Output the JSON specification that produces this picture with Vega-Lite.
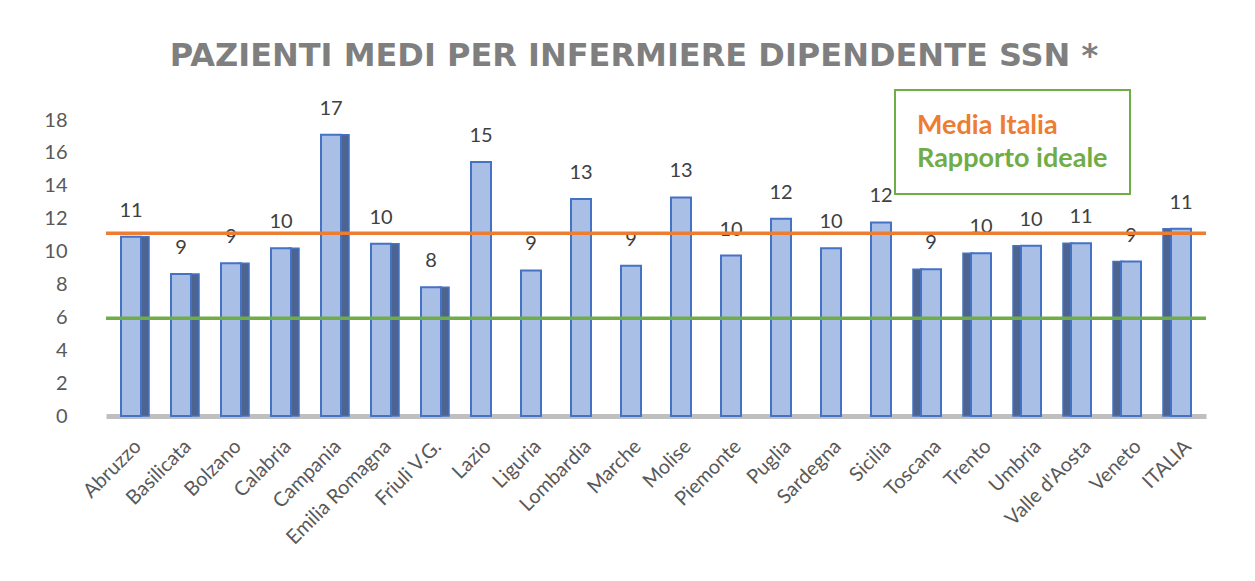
{
  "$schema": "https://vega.github.io/schema/vega-lite/v6.json",
  "autosize": "none",
  "width": 1100,
  "height": 296,
  "padding": {"left": 106, "top": 120, "right": 49, "bottom": 165},
  "background": "white",
  "title": {
    "text": "PAZIENTI MEDI PER INFERMIERE DIPENDENTE SSN *",
    "font": "DejaVu Sans",
    "fontSize": 32,
    "fontWeight": "bold",
    "color": "#7f7f7f",
    "anchor": "middle",
    "dx": -22,
    "offset": 16
  },
  "datasets": {
    "regioni": [
      {"regione": "Abruzzo", "valore": 10.9},
      {"regione": "Basilicata", "valore": 8.64},
      {"regione": "Bolzano", "valore": 9.29},
      {"regione": "Calabria", "valore": 10.2},
      {"regione": "Campania", "valore": 17.1},
      {"regione": "Emilia Romagna", "valore": 10.47},
      {"regione": "Friuli V.G.", "valore": 7.83},
      {"regione": "Lazio", "valore": 15.44},
      {"regione": "Liguria", "valore": 8.85},
      {"regione": "Lombardia", "valore": 13.2},
      {"regione": "Marche", "valore": 9.13},
      {"regione": "Molise", "valore": 13.29},
      {"regione": "Piemonte", "valore": 9.76},
      {"regione": "Puglia", "valore": 11.99},
      {"regione": "Sardegna", "valore": 10.2},
      {"regione": "Sicilia", "valore": 11.77},
      {"regione": "Toscana", "valore": 8.93},
      {"regione": "Trento", "valore": 9.9},
      {"regione": "Umbria", "valore": 10.35},
      {"regione": "Valle d'Aosta", "valore": 10.51},
      {"regione": "Veneto", "valore": 9.39},
      {"regione": "ITALIA", "valore": 11.38}
    ],
    "linee": [
      {"serie": "Media Italia", "valore": 11.12},
      {"serie": "Rapporto ideale", "valore": 5.95}
    ]
  },
  "layer": [
    {
      "data": {"name": "regioni"},
      "transform": [{"filter": {"field": "regione", "oneOf": ["Abruzzo", "Basilicata", "Bolzano", "Calabria", "Campania", "Emilia Romagna", "Friuli V.G."]}}],
      "mark": {"type": "bar", "size": 10, "xOffset": 13, "fill": "#4d6490", "stroke": "#4472c4", "strokeWidth": 1.5},
      "encoding": {
        "x": {
          "field": "regione",
          "type": "nominal",
          "sort": ["Abruzzo", "Basilicata", "Bolzano", "Calabria", "Campania", "Emilia Romagna", "Friuli V.G.", "Lazio", "Liguria", "Lombardia", "Marche", "Molise", "Piemonte", "Puglia", "Sardegna", "Sicilia", "Toscana", "Trento", "Umbria", "Valle d'Aosta", "Veneto", "ITALIA"],
          "scale": {"domain": ["Abruzzo", "Basilicata", "Bolzano", "Calabria", "Campania", "Emilia Romagna", "Friuli V.G.", "Lazio", "Liguria", "Lombardia", "Marche", "Molise", "Piemonte", "Puglia", "Sardegna", "Sicilia", "Toscana", "Trento", "Umbria", "Valle d'Aosta", "Veneto", "ITALIA"], "paddingInner": 0.5, "paddingOuter": 0.25},
          "axis": {
            "title": null,
            "labelAngle": -45,
            "labelFont": "Lato",
            "labelFontSize": 20,
            "labelColor": "#595959",
            "labelPadding": 20,
            "ticks": false,
            "domainColor": "#bfbfbf",
            "domainWidth": 5
          }
        },
        "y": {
          "field": "valore",
          "type": "quantitative",
          "scale": {"domain": [0, 18], "nice": false},
          "axis": {
            "title": null,
            "values": [0, 2, 4, 6, 8, 10, 12, 14, 16, 18],
            "tickCount": 10,
            "labelOverlap": false,
            "labelFont": "Lato",
            "labelFontSize": 20,
            "labelColor": "#595959",
            "labelPadding": 39,
            "ticks": false,
            "domain": false,
            "grid": false
          }
        }
      }
    },
    {
      "data": {"name": "regioni"},
      "transform": [{"filter": {"field": "regione", "oneOf": ["Toscana", "Trento", "Umbria", "Valle d'Aosta", "Veneto", "ITALIA"]}}],
      "mark": {"type": "bar", "size": 10, "xOffset": -13, "fill": "#4d6490", "stroke": "#4472c4", "strokeWidth": 1.5},
      "encoding": {
        "x": {"field": "regione", "type": "nominal"},
        "y": {"field": "valore", "type": "quantitative"}
      }
    },
    {
      "data": {"name": "regioni"},
      "mark": {"type": "bar", "size": 20, "fill": "#aabfe6", "stroke": "#4472c4", "strokeWidth": 2},
      "encoding": {
        "x": {"field": "regione", "type": "nominal"},
        "y": {"field": "valore", "type": "quantitative"}
      }
    },
    {
      "data": {"name": "regioni"},
      "mark": {"type": "text", "font": "Lato", "fontSize": 20, "color": "#404040", "dy": -26},
      "encoding": {
        "x": {"field": "regione", "type": "nominal"},
        "y": {"field": "valore", "type": "quantitative"},
        "text": {"field": "valore", "type": "quantitative", "format": ".0f"}
      }
    },
    {
      "data": {"name": "linee"},
      "mark": {"type": "rule", "strokeWidth": 3.5},
      "encoding": {
        "y": {"field": "valore", "type": "quantitative"},
        "color": {
          "field": "serie",
          "type": "nominal",
          "scale": {"domain": ["Media Italia", "Rapporto ideale"], "range": ["#ed7d31", "#70ad47"]},
          "legend": {
            "title": null,
            "orient": "none",
            "legendX": 789,
            "legendY": -30,
            "direction": "vertical",
            "symbolType": "circle",
            "symbolSize": 0,
            "symbolOpacity": 0,
            "symbolStrokeWidth": 0,
            "labelOffset": -27,
            "labelFont": "Lato",
            "labelFontSize": 27,
            "labelFontWeight": "bold",
            "labelLimit": 400,
            "labelColor": {"expr": "datum.label == 'Media Italia' ? '#ed7d31' : '#70ad47'"},
            "rowPadding": 5,
            "padding": 22,
            "strokeColor": "#70ad47",
            "fillColor": "white"
          }
        }
      }
    }
  ],
  "config": {
    "view": {"stroke": null},
    "font": "Lato",
    "legend": {"strokeWidth": 2},
    "axisY": {"labelOverlap": false},
    "axis": {"labelOverlap": false}
  }
}
